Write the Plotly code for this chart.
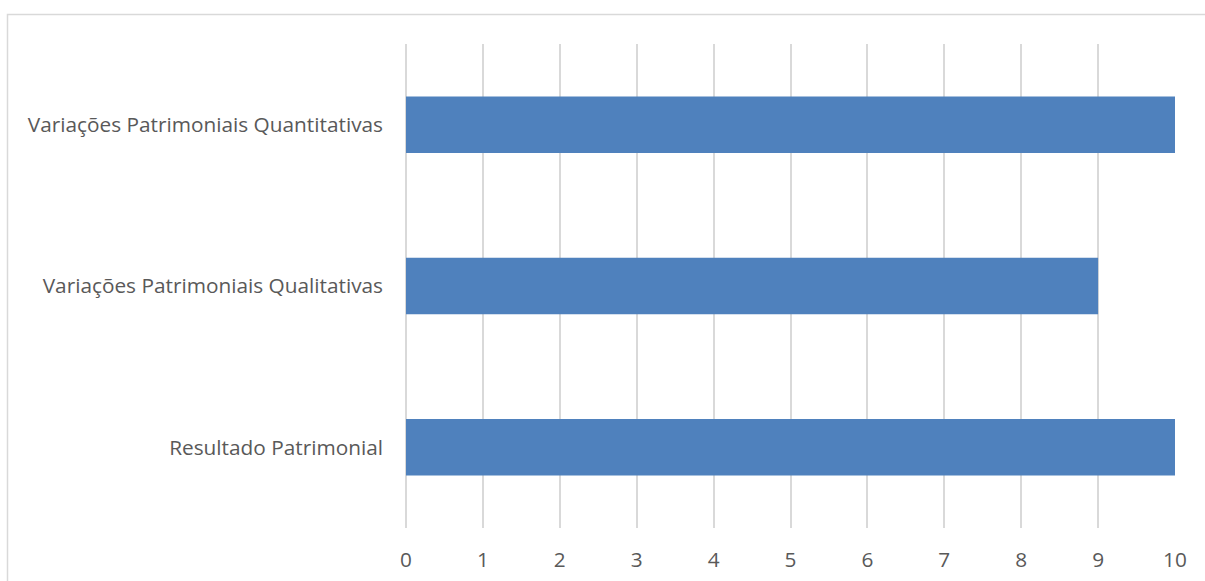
import plotly.graph_objects as go

# Categories listed bottom to top as they appear on the horizontal bar chart
categories = [
    "Resultado Patrimonial",
    "Variações Patrimoniais Qualitativas",
    "Variações Patrimoniais Quantitativas",
]
values = [10, 9, 10]
x_ticks = list(range(0, 11))

W, H = 1205, 581
L, R, T, B = 406, 30, 44, 53
pw, ph = W - L - R, H - T - B

fig = go.Figure(
    go.Bar(
        x=values,
        y=categories,
        orientation="h",
        width=0.35,
        marker=dict(color="#4F81BD", line=dict(width=0)),
        hoverinfo="x+y",
    )
)

# Light frame of the chart area (left and top edges visible)
def px_x(px):
    return (px - L) / pw

def px_y(py):
    return 1 - (py - T) / ph

fig.add_shape(
    type="rect", xref="paper", yref="paper",
    x0=px_x(7.5), x1=px_x(1230), y0=px_y(600), y1=px_y(14.5),
    line=dict(color="#D9D9D9", width=1.5), fillcolor="rgba(0,0,0,0)", layer="below",
)

font = dict(family="'Open Sans', sans-serif", size=20.8, color="#595959")

fig.update_layout(
    width=W, height=H,
    margin=dict(l=L, r=R, t=T, b=B, pad=0),
    paper_bgcolor="white", plot_bgcolor="white",
    showlegend=False,
    font=font,
    bargap=0.65,
    xaxis=dict(
        range=[0, 10], tickvals=x_ticks, ticks="", showline=False,
        showgrid=True, gridcolor="#D9D9D9", gridwidth=1.5,
        zeroline=True, zerolinecolor="#D9D9D9", zerolinewidth=1.5,
        ticklabelstandoff=17, tickfont=font, automargin=False,
    ),
    yaxis=dict(
        categoryorder="array", categoryarray=categories,
        range=[-0.5, 2.5], ticks="", showline=False, showgrid=False,
        zeroline=False, ticklabelstandoff=22, tickfont=font, automargin=False,
    ),
)

fig.write_html("out.html")
